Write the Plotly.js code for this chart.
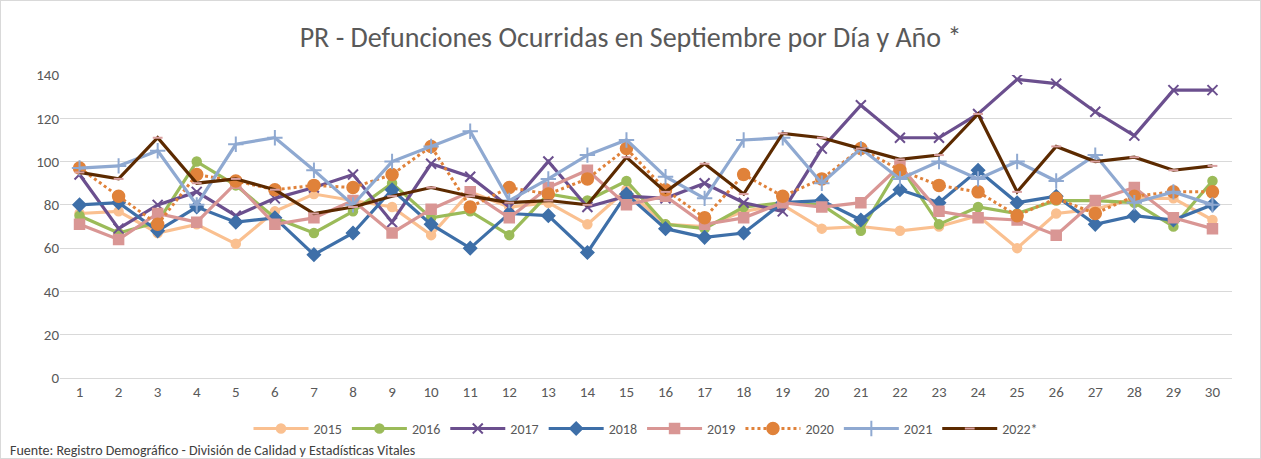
<!DOCTYPE html>
<html>
<head>
<meta charset="utf-8">
<script src="https://cdn.plot.ly/plotly-3.0.1.min.js"></script>
<style>
  html, body { margin: 0; padding: 0; background: #fff; }
  #chart { width: 1261px; height: 459px; }
  #frame { position: absolute; left: 0; top: 0; width: 1259px; height: 457px; border: 1px solid #d9d9d9; pointer-events: none; }
</style>
</head>
<body>
<div id="chart"></div>
<div id="frame"></div>
<script>
const days = [1,2,3,4,5,6,7,8,9,10,11,12,13,14,15,16,17,18,19,20,21,22,23,24,25,26,27,28,29,30];

const y2015 = [76,77,67,71,62,77,85,82,79,66,86,79,81,71,87,71,70,77,80,69,70,68,70,75,60,76,78,83,83,73];
const y2016 = [75,67,72,100,89,74,67,77,90,74,77,66,85,82,91,71,69,79,81,80,68,98,71,79,76,82,82,81,70,91];
const y2017 = [94,69,80,86,75,83,88,94,72,99,93,79,100,79,84,83,90,81,77,106,126,111,111,122,138,136,123,112,133,133];
const y2018 = [80,81,68,79,72,74,57,67,87,71,60,76,75,58,85,69,65,67,81,82,73,87,81,96,81,84,71,75,73,80];
const y2019 = [71,64,76,72,90,71,74,82,67,78,86,74,88,96,80,84,71,74,81,79,81,98,77,74,73,66,82,88,74,69];
const y2020 = [97,84,71,94,91,87,89,88,94,107,79,88,85,92,106,87,74,94,84,92,106,96,89,86,75,83,76,84,86,86];
const y2021 = [97,98,105,80,108,111,96,80,100,107,114,82,92,103,110,93,83,110,111,90,106,92,100,92,100,91,103,81,86,80];
const y2022 = [95,92,111,90,92,87,76,79,84,88,84,81,82,80,102,86,99,85,113,111,106,101,103,122,86,107,100,102,96,98];

const seriesNames = ['2015','2016','2017','2018','2019','2020','2021','2022*'];

function tr(name, y, color, symbol, msize) {
  return {
    type: 'scatter', mode: 'lines+markers', name: name, x: days, y: y,
    line: { color: color, width: 3.2 },
    marker: { color: color, symbol: symbol, size: msize, line: { color: color, width: 1.5 } }
  };
}

const traces = [
  tr(seriesNames[0], y2015, '#FAC090', 'circle', 9),
  tr(seriesNames[1], y2016, '#9BBB59', 'circle', 9),
  tr(seriesNames[2], y2017, '#6B4F8E', 'x-thin', 10),
  tr(seriesNames[3], y2018, '#3E6FA8', 'diamond', 10),
  tr(seriesNames[4], y2019, '#D99694', 'square', 10),
  tr(seriesNames[5], y2020, '#E0823A', 'circle', 12),
  tr(seriesNames[6], y2021, '#8FA9D1', 'cross-thin', 11),
  tr(seriesNames[7], y2022, '#5C2A00', 'line-ew', 7)
];
traces[2].marker.line = { color: '#6B4F8E', width: 2 };
traces[5].line = { color: '#E0823A', width: 3, dash: 'dot' };
traces[6].marker.line = { color: '#8FA9D1', width: 2 };
traces[7].marker.line = { color: '#D9A0A0', width: 2 };

const layout = {
  width: 1261, height: 459,
  margin: { l: 60, r: 29, t: 75, b: 81 },
  paper_bgcolor: '#ffffff', plot_bgcolor: '#ffffff',
  font: { family: 'Carlito, Lato, "Open Sans", sans-serif', color: '#595959', size: 15 },
  title: {
    text: 'PR - Defunciones Ocurridas en Septiembre por Día y Año *',
    font: { size: 28, color: '#595959' },
    x: 0.5, xanchor: 'center', y: 0.918, yanchor: 'middle'
  },
  xaxis: {
    range: [0.5, 30.5], tickmode: 'array', tickvals: days, ticktext: days.map(String),
    showgrid: false, zeroline: false, showline: true, linecolor: '#d9d9d9', linewidth: 1,
    ticks: '', tickfont: { size: 15, color: '#595959' }, fixedrange: true
  },
  yaxis: {
    range: [0, 140], dtick: 20, showgrid: true, gridcolor: '#d9d9d9', gridwidth: 1,
    zeroline: false, showline: false, ticks: '', ticklen: 0,
    tickfont: { size: 15, color: '#595959' }, fixedrange: true
  },
  showlegend: true,
  legend: {
    orientation: 'h', x: 0.5, xanchor: 'center', y: -0.168, yanchor: 'middle',
    font: { size: 14, color: '#595959' }, itemwidth: 55, traceorder: 'normal',
    tracegroupgap: 0
  },
  annotations: [{
    text: 'Fuente: Registro Demográfico - División de Calidad y Estadísticas Vitales',
    xref: 'paper', yref: 'paper', x: -0.0444, y: -0.24, xanchor: 'left', yanchor: 'middle',
    showarrow: false, font: { size: 14, color: '#404040' }
  }]
};

Plotly.newPlot('chart', traces, layout, { displayModeBar: false, staticPlot: true });
</script>
</body>
</html>
